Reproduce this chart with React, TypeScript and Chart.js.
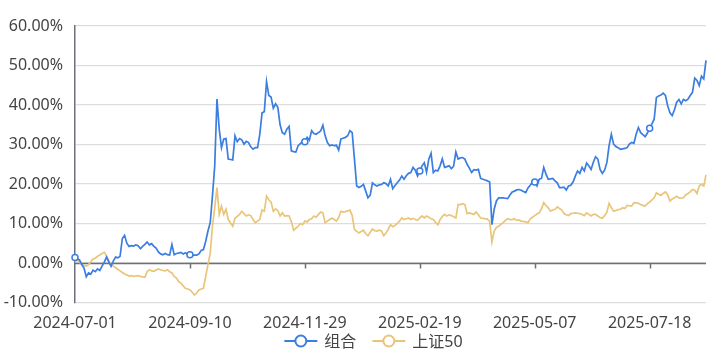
import React, { useEffect, useRef } from "react";
import { Chart, registerables } from "chart.js";

Chart.register(...registerables);

const START_DATE = "2024-07-01";
const END_DATE = "2025-08-22";
const HOLIDAYS = [
  "2024-09-16", "2024-09-17", "2024-10-01", "2024-10-02", "2024-10-03", "2024-10-04", "2024-10-07",
  "2025-01-01", "2025-01-28", "2025-01-29", "2025-01-30", "2025-01-31", "2025-02-03", "2025-02-04",
  "2025-04-04", "2025-05-01", "2025-05-02", "2025-05-05", "2025-06-02",
];
const LABEL_EVERY = 51;

const SERIES_NAMES = ["组合", "上证50"];

const PORTFOLIO = [
  1.4, 1.1, 0.8, -0.4, -1.3, -3.5, -2.5, -2.8, -1.8, -2.2,
  -1.5, -1.9, -0.8, 0.2, 1.5, 0.3, -0.8, 0.5, 1.5, 1.3,
  1.7, 6.2, 7.0, 5.0, 4.2, 4.4, 4.3, 4.6, 4.4, 3.6,
  4.2, 4.7, 5.3, 4.6, 4.9, 4.2, 3.8, 2.8, 2.3, 2.1,
  2.4, 2.1, 2.0, 4.7, 2.1, 2.4, 2.5, 2.7, 2.3, 2.6,
  2.1, 2.1, 1.9, 2.0, 2.0, 2.3, 3.2, 3.4, 5.5, 8.1,
  10.2, 17.0, 24.6, 41.5, 33.9, 29.2, 31.4, 31.5, 26.3, 26.2,
  26.1, 32.2, 30.7, 31.5, 31.2, 30.1, 30.8, 30.5, 29.4, 28.8,
  29.2, 29.2, 32.6, 38.0, 38.3, 45.9, 42.4, 42.0, 39.2, 40.3,
  39.4, 35.0, 33.0, 32.6, 33.9, 34.6, 28.4, 28.2, 28.1, 29.7,
  30.2, 30.9, 30.7, 31.8, 31.1, 33.5, 32.8, 32.6, 33.0, 33.4,
  34.9, 32.2, 30.5, 29.7, 29.9, 29.7, 29.8, 28.6, 31.4, 31.6,
  31.8, 32.2, 33.5, 33.0, 26.3, 19.5, 19.1, 19.4, 19.9, 18.2,
  16.5, 17.2, 20.3, 19.8, 19.5, 19.8, 19.9, 20.3, 20.1, 19.5,
  21.2, 18.8, 19.6, 20.3, 21.0, 22.0, 21.2, 22.1, 22.7, 22.9,
  24.2, 23.5, 22.0, 23.3, 24.6, 25.4, 23.0, 26.3, 27.8, 22.9,
  23.5, 23.3, 24.6, 26.4, 24.2, 24.4, 24.6, 23.9, 24.5, 28.1,
  26.3, 26.6, 26.7, 26.3, 25.0, 24.0, 22.9, 23.6, 23.5, 23.7,
  21.4, 21.2, 21.0, 20.8, 20.5, 9.7, 13.6, 15.7, 16.5, 16.5,
  16.5, 16.4, 16.3, 17.2, 18.0, 18.2, 18.5, 18.6, 18.4, 18.1,
  17.8, 19.0, 19.7, 20.5, 20.5, 19.5, 21.2, 21.4, 24.2, 22.5,
  21.2, 21.3, 21.4, 20.8, 20.3, 19.1, 19.1, 19.2, 18.5, 19.5,
  19.7, 20.5, 22.0, 23.3, 22.7, 24.2, 23.3, 25.3, 24.6, 23.7,
  25.5, 26.9, 26.3, 23.7, 22.7, 23.5, 25.4, 29.7, 32.6, 30.1,
  29.5, 29.2, 28.8, 28.9, 29.0, 29.2, 30.1, 30.5, 30.3, 32.6,
  34.3, 33.0, 32.5, 32.0, 32.9, 34.1, 35.2, 36.4, 41.9, 42.3,
  42.5, 43.0, 42.4, 39.8, 38.0, 37.3, 38.8, 40.7, 41.4, 40.3,
  41.4, 41.1, 41.5, 42.4, 43.2, 46.8, 46.2, 44.9, 47.3, 46.6, 51.3,
];

const SSE50 = [
  0.3, 0.8, 0.2, -0.4, -0.6, -0.8, -0.4, 0.3, 1.0, 1.2,
  1.7, 2.0, 2.4, 2.7, 1.8, 0.6, -0.4, -0.8, -1.2, -1.6,
  -2.0, -2.4, -2.8, -3.0, -3.3, -3.2, -3.4, -3.3, -3.2, -3.4,
  -3.5, -3.6, -2.2, -1.7, -2.0, -2.1, -1.8, -1.5, -1.7, -1.9,
  -2.0, -1.7, -2.2, -2.5, -3.4, -3.8, -4.7, -5.1, -5.8, -6.4,
  -6.6, -6.8, -7.4, -8.1, -7.6, -6.8, -6.6, -6.4, -3.4, -0.4,
  2.5, 9.3, 14.0, 19.1, 12.3, 14.4, 12.3, 13.6, 11.0, 10.2,
  9.3, 11.4, 11.8, 12.3, 13.1, 12.5, 11.9, 12.2, 12.0, 11.0,
  10.2, 10.6, 11.0, 13.4, 13.1, 16.9, 16.0, 15.4, 13.1, 13.7,
  13.3, 11.9, 12.7, 11.9, 12.0, 11.9, 10.5, 8.3, 8.8, 9.3,
  10.0, 9.7, 10.6, 10.4, 11.0, 11.2, 11.9, 11.6, 12.3, 12.9,
  12.7, 10.2, 10.6, 11.0, 11.4, 11.0, 10.6, 11.5, 13.1, 12.9,
  13.0, 13.2, 13.4, 12.0, 8.5, 8.0, 7.6, 8.0, 8.3, 7.4,
  6.9, 7.8, 8.6, 8.2, 8.1, 8.3, 8.1, 6.9, 7.6, 8.5,
  9.7, 9.2, 9.5, 10.0, 10.6, 11.4, 11.0, 11.2, 11.4, 11.0,
  11.3, 11.0, 10.8, 11.4, 11.9, 11.4, 11.9, 11.6, 11.2, 11.0,
  10.3, 9.7, 11.0, 11.8, 12.3, 11.9, 12.2, 12.0, 11.7, 11.4,
  14.8, 14.8, 15.0, 14.8, 12.5, 12.7, 12.5, 12.3, 12.9, 12.2,
  11.4, 11.3, 11.2, 11.1, 10.5, 5.3, 8.1, 9.0, 9.3, 9.8,
  10.2, 10.8, 11.2, 11.0, 11.0, 11.2, 10.8, 10.9, 10.6, 10.5,
  10.4, 10.2, 11.2, 11.6, 12.0, 12.4, 12.7, 13.7, 15.3, 14.5,
  14.0, 13.1, 13.4, 13.6, 14.2, 13.8, 13.4, 12.5, 12.2, 12.0,
  12.5, 12.6, 12.7, 12.6, 12.5, 12.3, 12.0, 12.7, 12.3, 11.9,
  12.3, 12.3, 11.9, 11.5, 11.3, 12.0, 12.8, 15.1, 14.0, 13.1,
  13.3, 13.5, 13.6, 14.0, 13.8, 14.6, 14.5, 14.4, 15.3, 15.2,
  15.1, 14.8, 14.6, 14.4, 15.0, 15.4, 16.0, 16.5, 17.8, 17.4,
  17.1, 17.6, 18.0, 17.3, 15.7, 16.2, 16.5, 16.9, 16.5, 16.4,
  16.5, 17.3, 17.6, 18.0, 18.6, 18.4, 17.6, 19.5, 19.9, 19.5, 22.3,
];

const Y_MIN = -10;
const Y_MAX = 60;
const Y_STEP = 10;

function buildTradingDays(start: string, end: string, holidays: string[]): string[] {
  const out: string[] = [];
  const d = new Date(start + "T00:00:00Z");
  const stop = new Date(end + "T00:00:00Z");
  while (d.getTime() <= stop.getTime()) {
    const iso = d.toISOString().slice(0, 10);
    const wd = d.getUTCDay();
    if (wd !== 0 && wd !== 6 && holidays.indexOf(iso) < 0) out.push(iso);
    d.setUTCDate(d.getUTCDate() + 1);
  }
  return out;
}

const DATES = buildTradingDays(START_DATE, END_DATE, HOLIDAYS);

const BLUE = "#3b7de1";
const GOLD = "#e9c57a";
const FONT = '"Noto Sans", "Noto Sans CJK SC", sans-serif';
const TEXT = "#444444";
const AXIS = "#6e7079";

export default function App() {
  const ref = useRef<HTMLCanvasElement | null>(null);

  useEffect(() => {
    document.body.style.margin = "0";
    const canvas = ref.current;
    if (!canvas) return;

    const zeroAxis = {
      id: "zeroAxis",
      beforeDatasetsDraw(chart: any) {
        const { ctx, chartArea, scales } = chart;
        const x = scales.x;
        const y = scales.y;
        const y0 = Math.round(y.getPixelForValue(0)) + 0.5;
        ctx.save();
        ctx.strokeStyle = AXIS;
        ctx.lineWidth = 1.5;
        ctx.beginPath();
        ctx.moveTo(chartArea.left, y0);
        ctx.lineTo(chartArea.right, y0);
        for (let i = LABEL_EVERY; i < DATES.length; i += LABEL_EVERY) {
          const px = Math.round(x.getPixelForValue(i)) + 0.5;
          ctx.moveTo(px, y0);
          ctx.lineTo(px, y0 + 5);
        }
        ctx.stroke();
        ctx.restore();
      },
    };

    const legendPlugin = {
      id: "lineLegend",
      afterDraw(chart: any) {
        const { ctx } = chart;
        const iconW = 33;
        const iconGap = 7;
        const itemGap = 16;
        const cy = 341;
        ctx.save();
        ctx.font = `16px ${FONT}`;
        ctx.textBaseline = "middle";
        const ds = chart.data.datasets;
        const widths = ds.map((d: any) => ctx.measureText(d.label).width);
        let total = 0;
        widths.forEach((w: number, i: number) => {
          total += iconW + iconGap + w + (i < widths.length - 1 ? itemGap : 0);
        });
        let x = (chart.chartArea.left + chart.chartArea.right) / 2 - total / 2 - 17;
        ds.forEach((d: any, i: number) => {
          ctx.strokeStyle = d.borderColor;
          ctx.lineWidth = 2;
          ctx.beginPath();
          ctx.moveTo(x, cy);
          ctx.lineTo(x + iconW, cy);
          ctx.stroke();
          ctx.beginPath();
          ctx.arc(x + iconW / 2, cy, 5.5, 0, Math.PI * 2);
          ctx.fillStyle = "#ffffff";
          ctx.fill();
          ctx.stroke();
          ctx.fillStyle = TEXT;
          ctx.fillText(d.label, x + iconW + iconGap, cy + 1);
          x += iconW + iconGap + widths[i] + itemGap;
        });
        ctx.restore();
      },
    };

    const chart = new Chart(canvas, {
      type: "line",
      data: {
        labels: DATES,
        datasets: [
          {
            label: SERIES_NAMES[0],
            data: PORTFOLIO,
            borderColor: BLUE,
            backgroundColor: "#ffffff",
            borderWidth: 1.7,
            tension: 0,
            pointRadius: (c: any) => (c.dataIndex % LABEL_EVERY === 0 ? 3 : 0),
            pointBorderWidth: 1.5,
            pointBorderColor: BLUE,
            pointBackgroundColor: "#ffffff",
            pointHoverRadius: 0,
          },
          {
            label: SERIES_NAMES[1],
            data: SSE50,
            borderColor: GOLD,
            backgroundColor: "#ffffff",
            borderWidth: 1.7,
            tension: 0,
            pointRadius: 0,
            pointHoverRadius: 0,
          },
        ],
      },
      options: {
        animation: false,
        responsive: false,
        events: [],
        layout: { padding: { top: 26, right: 14, left: 0, bottom: 0 } },
        plugins: {
          tooltip: { enabled: false },
          legend: { display: false },
        },
        scales: {
          x: {
            type: "category",
            grid: { display: false, drawTicks: false },
            border: { display: false },
            ticks: {
              autoSkip: false,
              maxRotation: 0,
              minRotation: 0,
              padding: 11,
              color: TEXT,
              font: { family: FONT, size: 16 },
              callback: (_v: any, i: number) => (i % LABEL_EVERY === 0 ? DATES[i] : null),
            },
            afterFit: (s: any) => {
              s.height = 57.5;
            },
          },
          y: {
            min: Y_MIN,
            max: Y_MAX,
            grid: { color: "#dddddd", lineWidth: 1.2, drawTicks: false },
            border: { display: true, color: AXIS, width: 1.5 },
            ticks: {
              stepSize: Y_STEP,
              padding: 12,
              color: TEXT,
              font: { family: FONT, size: 16 },
              callback: (v: any) => Number(v).toFixed(2) + "%",
            },
            afterFit: (s: any) => {
              s.width = 75;
            },
          },
        },
      },
      plugins: [zeroAxis, legendPlugin],
    } as any);

    return () => chart.destroy();
  }, []);

  return (
    <div style={{ width: 720, height: 360 }}>
      <canvas ref={ref} width={720} height={360} style={{ display: "block" }} />
    </div>
  );
}
